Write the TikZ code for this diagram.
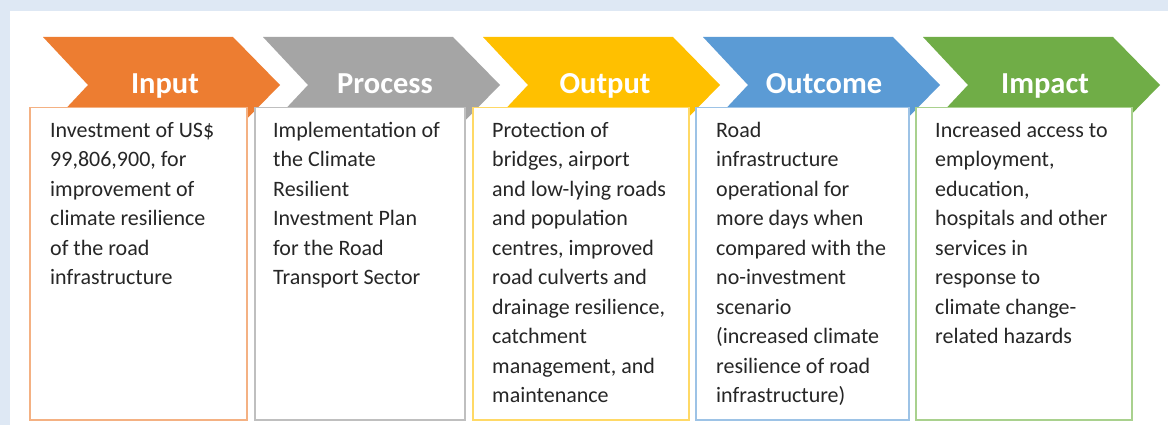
\documentclass[tikz,border=0pt]{standalone}
\usepackage{fontspec}
\setmainfont{Carlito}
\definecolor{bgblue}{HTML}{DEE8F4}
\definecolor{cOrange}{HTML}{ED7D31}
\definecolor{cGray}{HTML}{A5A5A5}
\definecolor{cYellow}{HTML}{FFC000}
\definecolor{cBlue}{HTML}{5B9BD5}
\definecolor{cGreen}{HTML}{70AD47}
\definecolor{bOrange}{HTML}{F4B183}
\definecolor{bGray}{HTML}{BFBFBF}
\definecolor{bYellow}{HTML}{FFD966}
\definecolor{bBlue}{HTML}{9DC3E6}
\definecolor{bGreen}{HTML}{A9D18E}
\definecolor{txt}{HTML}{262626}
\tikzset{
  head/.style={anchor=base, text=white, inner sep=0pt, font=\bfseries\fontsize{30.5}{30.5}\selectfont},
  panel/.style={draw, line width=1.5pt, fill=white, anchor=north west, inner sep=0pt},
  body/.style={anchor=north west, align=left, inner sep=0pt, text=txt, font=\fontsize{22}{29.5}\selectfont}
}
\begin{document}
\begin{tikzpicture}[x=1pt,y=-1pt]
\useasboundingbox (0,0) rectangle (1168,425);
\fill[bgblue] (0,0) rectangle (1168,425);
\fill[white] (10,11) rectangle (1168,425);
% chevrons
\foreach \x/\c in {43/cOrange,263/cGray,483/cYellow,703/cBlue,923/cGreen}{
  \fill[\c] (\x,37) -- (\x+190,37) -- (\x+237,85) -- (\x+190,133) -- (\x,133) -- (\x+45,85) -- cycle;
}
\node[head] (hin) at (165,94) {Input};
\node[head] (hpr) at (385,94) {Process};
\node[head] (hou) at (605,94) {Output};
\node[head] (hoc) at (824,94) {Outcome};
\node[head] (him) at (1045,94) {Impact};
% panels
\node[panel, draw=bOrange, minimum width=217pt, minimum height=312pt] (bin) at (29,107) {};
\node[panel, draw=bGray, minimum width=210pt, minimum height=312pt] (bpr) at (254,107) {};
\node[panel, draw=bYellow, minimum width=216pt, minimum height=312pt] (bou) at (472,107) {};
\node[panel, draw=bBlue, minimum width=213pt, minimum height=312pt] (boc) at (695,107) {};
\node[panel, draw=bGreen, minimum width=216pt, minimum height=312pt] (bim) at (915,107) {};
% texts
\node[body] (tin) at (50,122) {Investment of US\$\\99,806,900, for\\improvement of\\climate resilience\\of the road\\infrastructure};
\node[body] (tpr) at (273,122) {Implementation of\\the Climate\\Resilient\\Investment Plan\\for the Road\\Transport Sector};
\node[body] (tou) at (492,122) {Protection of\\bridges, airport\\and low-lying roads\\and population\\centres, improved\\road culverts and\\drainage resilience,\\catchment\\management, and\\maintenance};
\node[body] (toc) at (716,122) {Road\\infrastructure\\operational for\\more days when\\compared with the\\no-investment\\scenario\\(increased climate\\resilience of road\\infrastructure)};
\node[body] (tim) at (935,122) {Increased access to\\employment,\\education,\\hospitals and other\\services in\\response to\\climate change-\\related hazards};
\end{tikzpicture}
\end{document}
